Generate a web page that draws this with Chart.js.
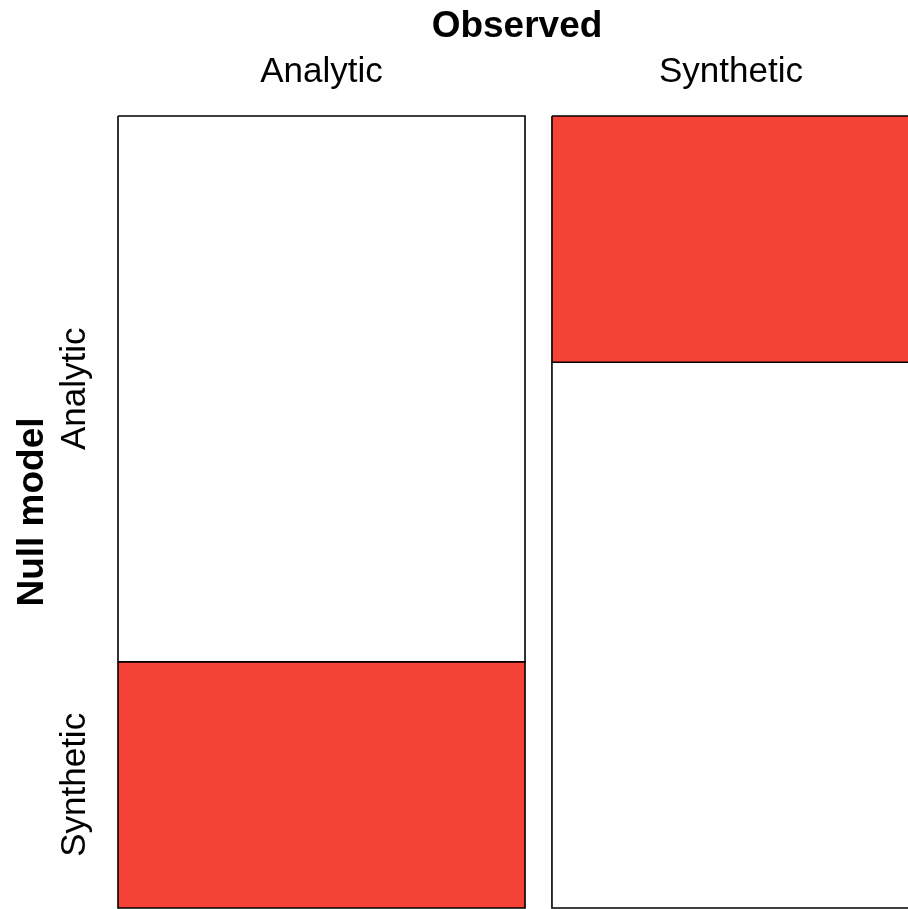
<!DOCTYPE html>
<html>
<head>
<meta charset="utf-8">
<script src="https://cdn.jsdelivr.net/npm/chart.js@4/dist/chart.umd.min.js"></script>
<style>
  html, body { margin: 0; padding: 0; overflow: hidden; background: #ffffff; }
  #wrap { position: absolute; left: 0; top: 0; width: 910px; height: 909px; }
</style>
</head>
<body>
<div id="wrap"><canvas id="mosaic" width="910" height="909"></canvas></div>
<script>
// Mosaic of observed class vs. null-model class
const observedLabels = ['Analytic', 'Synthetic'];
const nullLabels = ['Analytic', 'Synthetic'];
// column widths: share of each observed class
const observedShare = [0.532, 0.468];
// within each observed column: share of each null-model class (top to bottom)
const nullAnalyticShare = [0.689, 0.311];
const nullSyntheticShare = [0.311, 0.689];

const RED = '#f44336';
const GAP = 0.034;           // horizontal space between the two columns
const FONT = '"Liberation Sans", Arial, Helvetica, sans-serif';

// column extents along x (0..1)
const colX = [];
let cursor = 0;
observedShare.forEach((s) => {
  const w = s * (1 - GAP);
  colX.push([cursor, cursor + w]);
  cursor += w + GAP;
});

// build one closed polygon dataset per cell
const datasets = [];
observedShare.forEach((_, j) => {
  const [x0, x1] = colX[j];
  const parts = [nullAnalyticShare[j], nullSyntheticShare[j]];
  let y = 0;
  parts.forEach((p, i) => {
    const y0 = y, y1 = y + p;
    y = y1;
    const off = i !== j; // off-diagonal cells are highlighted
    datasets.push({
      label: observedLabels[j] + ' / ' + nullLabels[i],
      data: [
        { x: x0, y: y0 }, { x: x1, y: y0 }, { x: x1, y: y1 },
        { x: x0, y: y1 }, { x: x0, y: y0 }
      ],
      fill: 'shape',
      backgroundColor: off ? RED : '#ffffff',
      borderColor: '#000000',
      borderWidth: 1.6,
      pointRadius: 0,
      tension: 0,
      clip: 4
    });
  });
});

// text around the mosaic: axis titles and class names
const labelPlugin = {
  id: 'mosaicLabels',
  afterDraw(chart) {
    const { ctx, chartArea, scales } = chart;
    const xs = scales.x, ys = scales.y;
    ctx.save();
    ctx.fillStyle = '#000000';
    ctx.textAlign = 'center';
    ctx.textBaseline = 'alphabetic';

    // top title
    ctx.font = 'bold 37px ' + FONT;
    ctx.fillText('Observed', (chartArea.left + chartArea.right) / 2 + 3, 37);

    // observed class names over each column
    ctx.font = '35px ' + FONT;
    observedLabels.forEach((name, j) => {
      const cx = (xs.getPixelForValue(colX[j][0]) + xs.getPixelForValue(colX[j][1])) / 2;
      ctx.fillText(name, cx, 82);
    });

    // null-model class names beside the first column
    let y = 0;
    const shares = [nullAnalyticShare[0], nullSyntheticShare[0]];
    nullLabels.forEach((name, i) => {
      const cy = (ys.getPixelForValue(y) + ys.getPixelForValue(y + shares[i])) / 2;
      y += shares[i];
      ctx.save();
      ctx.translate(85, cy);
      ctx.rotate(-Math.PI / 2);
      ctx.font = '35px ' + FONT;
      ctx.fillText(name, 0, 0);
      ctx.restore();
    });

    // left title
    ctx.save();
    ctx.translate(43, (chartArea.top + chartArea.bottom) / 2);
    ctx.rotate(-Math.PI / 2);
    ctx.font = 'bold 37px ' + FONT;
    ctx.fillText('Null model', 0, 0);
    ctx.restore();

    ctx.restore();
  }
};

new Chart(document.getElementById('mosaic'), {
  type: 'line',
  data: { datasets },
  options: {
    responsive: false,
    animation: false,
    layout: { padding: { left: 118, top: 116, right: 0, bottom: 1 } },
    scales: {
      x: { type: 'linear', min: 0, max: 1, display: false },
      y: { type: 'linear', min: 0, max: 1, reverse: true, display: false }
    },
    plugins: {
      legend: { display: false },
      tooltip: { enabled: false },
      title: { display: false }
    }
  },
  plugins: [labelPlugin]
});
</script>
</body>
</html>
